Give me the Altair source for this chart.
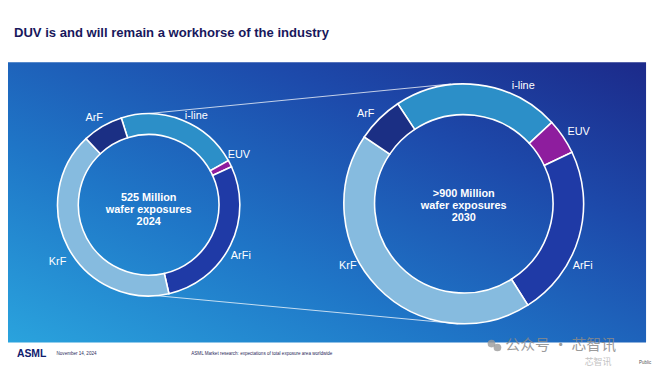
import altair as alt
import pandas as pd
import math

# ---- data ----
categories = ["i-line", "EUV", "ArFi", "KrF", "ArF"]
share_2024 = [21.8, 1.2, 28.3, 41.5, 7.2]      # % of 525 M wafer exposures
share_2030 = [22.4, 4.8, 23.1, 43.4, 6.3]      # % of >900 M wafer exposures
center_2024 = ["525 Million", "wafer exposures", "2024"]
center_2030 = [">900 Million", "wafer exposures", "2030"]
title_text = "DUV is and will remain a workhorse of the industry"
footer_note = "ASML Market research: expectations of total exposure area worldwide"
footer_date = "November 14, 2024"

# ---- layout (page pixel coordinates) ----
W, H = 644, 358
xs = alt.Scale(domain=[8, 8 + W], nice=False, zero=False)
ys = alt.Scale(domain=[8, 8 + H], nice=False, zero=False, reverse=True)
FONT = "Liberation Sans"

seg_colors = ["#2c8fc8", "#8e1d9e", "#1f3aa6", "#86bbdf", "#1b2f84"]

def X(f="x:Q"):
    return alt.X(f, scale=xs, axis=None)

def Y(f="y:Q"):
    return alt.Y(f, scale=ys, axis=None)

def donut_df(shares, cx, cy):
    return pd.DataFrame({"cat": categories, "share": shares,
                         "idx": list(range(len(categories))),
                         "cx": cx, "cy": cy})

bg = alt.Chart(pd.DataFrame({"x": [8], "x2": [8 + W], "y": [61], "y2": [344]})).mark_rect(
    color=alt.LinearGradient(
        gradient="linear", x1=0, y1=1, x2=1, y2=0,
        stops=[alt.GradientStop(color="#2aa3dd", offset=0),
               alt.GradientStop(color="#1f76c7", offset=0.35),
               alt.GradientStop(color="#1d4aab", offset=0.7),
               alt.GradientStop(color="#1c2a8a", offset=1)])
).encode(x=X(), x2="x2:Q", y=Y(), y2="y2:Q")

conn = alt.Chart(pd.DataFrame({"x": [148, 140], "y": [113, 295],
                               "x2": [455, 462], "y2": [83, 325]})).mark_rule(
    color="white", strokeWidth=1, opacity=0.75
).encode(x=X(), x2="x2:Q", y=Y(), y2="y2:Q")

def donut(shares, cx, cy, r_out, r_in, start_deg):
    s = math.radians(start_deg)
    return alt.Chart(donut_df(shares, cx, cy)).mark_arc(
        outerRadius=r_out, innerRadius=r_in, stroke="white", strokeWidth=1.6
    ).encode(
        x=X("cx:Q"), y=Y("cy:Q"),
        theta=alt.Theta("share:Q", stack=True,
                        scale=alt.Scale(domain=[0, 100], range=[s, s + 2 * math.pi])),
        color=alt.Color("cat:N", scale=alt.Scale(domain=categories, range=seg_colors), legend=None),
        order=alt.Order("idx:Q"),
    )

arc_l = donut(share_2024, 150, 205, 92, 71, -17.5)
arc_r = donut(share_2030, 468, 204, 121, 90, -33.4)

labels = pd.DataFrame({
    "text": ["ArF", "i-line", "EUV", "ArFi", "KrF", "ArF", "i-line", "EUV", "ArFi", "KrF"],
    "x": [95, 198, 241, 243, 58, 369, 528, 584, 588, 351],
    "y": [117, 115, 155, 257, 263, 113, 85, 132, 267, 267],
})
seg_text = alt.Chart(labels).mark_text(font=FONT, fontSize=11, color="white").encode(
    x=X(), y=Y(), text="text:N")

centers = pd.DataFrame({
    "text": center_2024 + center_2030,
    "x": [150] * 3 + [468] * 3,
    "y": [198, 210, 222, 194, 206, 218],
})
ctr_text = alt.Chart(centers).mark_text(font=FONT, fontSize=11, fontWeight="bold", color="white").encode(
    x=X(), y=Y(), text="text:N")

title = alt.Chart(pd.DataFrame({"text": [title_text], "x": [14], "y": [32]})).mark_text(
    font=FONT, fontSize=13.2, fontWeight="bold", color="#18185c", align="left"
).encode(x=X(), y=Y(), text="text:N")

foot_df = pd.DataFrame({
    "text": ["ASML", footer_date, footer_note],
    "x": [17, 57, 193], "y": [356, 356, 356],
})
foot_asml = alt.Chart(foot_df.iloc[[0]]).mark_text(
    font=FONT, fontSize=10.5, fontWeight="bold", color="#10206e", align="left"
).encode(x=X(), y=Y(), text="text:N")
foot_small = alt.Chart(foot_df.iloc[[1, 2]]).mark_text(
    font=FONT, fontSize=4.6, color="#2a2a5a", align="left"
).encode(x=X(), y=Y(), text="text:N")

wm = pd.DataFrame({"text": ["公众号 · 芯智讯", "芯智讯", "Public"],
                   "x": [510, 590, 645], "y": [346, 364, 365]})
wm_big = alt.Chart(wm.iloc[[0]]).mark_text(
    font="Noto Sans CJK SC", fontSize=15, color="#8a8a8a", opacity=0.85, align="left"
).encode(x=X(), y=Y(), text="text:N")
wm_small = alt.Chart(wm.iloc[[1]]).mark_text(
    font="Noto Sans CJK SC", fontSize=9, color="#aaaaaa", opacity=0.7, align="left"
).encode(x=X(), y=Y(), text="text:N")
wm_pub = alt.Chart(wm.iloc[[2]]).mark_text(
    font=FONT, fontSize=4.5, color="#555555", align="left"
).encode(x=X(), y=Y(), text="text:N")
wm_icon = alt.Chart(pd.DataFrame({"x": [496, 502], "y": [345, 349]})).mark_circle(
    color="#9a9a9a", size=60, opacity=0.8
).encode(x=X(), y=Y())

chart = alt.layer(
    bg, conn, arc_l, arc_r, seg_text, ctr_text, title, foot_asml, foot_small,
    wm_icon, wm_big, wm_small, wm_pub
).resolve_scale(theta="independent").properties(
    width=W, height=H, padding=0, background="white"
).configure_view(stroke=None)

chart.save("out.html", embed_options={"renderer": "svg", "actions": False})
